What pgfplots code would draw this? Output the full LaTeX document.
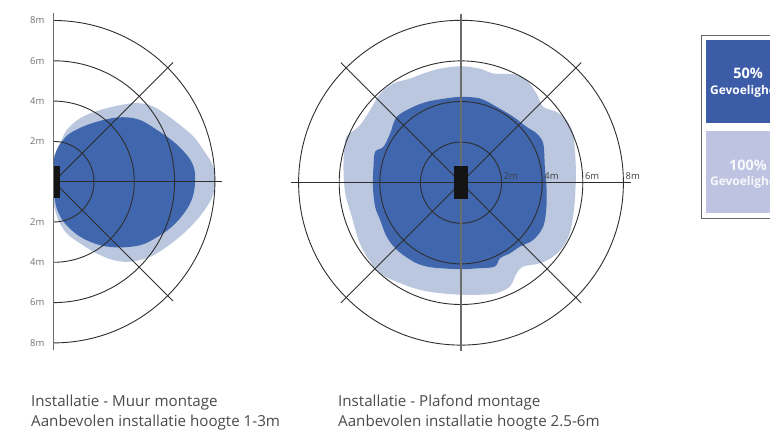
\documentclass[border=0pt]{standalone}
\usepackage{pgfplots}
\pgfplotsset{compat=1.18}
\usepackage{fontspec}
\setmainfont{Open Sans}
\definecolor{darkb}{HTML}{4066AE}
\definecolor{lightb}{HTML}{BAC7DE}
\definecolor{legdark}{HTML}{3D5CA8}
\definecolor{leglight}{HTML}{BDC3E1}
\definecolor{gridc}{HTML}{2E2E2E}
\definecolor{labc}{HTML}{707070}
\definecolor{labr}{HTML}{404040}
\definecolor{capc}{HTML}{4A4A4A}
\begin{document}
\begin{tikzpicture}
\useasboundingbox (0,0) rectangle (770bp,430bp);
\clip (0,0) rectangle (770bp,430bp);
% ---------- left: wall mount ----------
\begin{axis}[at={(53.7bp,248.3bp)}, anchor=origin, x=20.15bp, y=20.15bp,
  xmin=-1, xmax=9, ymin=-9, ymax=9, hide axis, clip=false]
\addplot[fill=lightb, draw=none, smooth, tension=0.6] coordinates {
(0,1.24) (0.15,1.57) (0.40,2.07) (0.65,2.57) (1.31,3.15) (2.30,3.56) (3.63,3.86) (4.29,3.89)
(4.95,3.73) (5.61,3.31) (6.27,2.81) (6.94,2.24) (7.43,1.57) (7.85,0.91) (8.01,0.25) (7.93,-0.58)
(7.60,-1.24) (7.10,-1.90) (6.44,-2.57) (5.61,-3.23) (4.78,-3.73) (3.79,-3.97) (2.96,-3.89)
(2.14,-3.56) (1.31,-3.06) (0.65,-2.57) (0.23,-1.90) (0.03,-1.24) (0,-0.91)};
\addplot[fill=darkb, draw=none, smooth, tension=0.6] coordinates {
(0,1.08) (0.15,1.57) (0.40,1.99) (0.81,2.40) (1.64,2.81) (2.63,3.10) (3.46,3.20) (4.29,3.06)
(5.12,2.57) (5.94,1.99) (6.61,1.32) (6.94,0.75) (7.02,0.08) (6.90,-0.75) (6.52,-1.49)
(5.86,-2.24) (5.03,-2.81) (4.29,-3.15) (3.29,-3.26) (2.30,-3.15) (1.31,-2.73) (0.56,-2.07)
(0.18,-1.41) (0.03,-0.75) (0,-0.5)};
\pgfplotsinvokeforeach{2,4,6,8}{
  \draw[gridc, line width=0.9bp] (axis cs:0,#1) arc[start angle=90, end angle=-90, radius=#1];
  \node[labc, anchor=east, inner sep=0, font=\fontsize{9.5}{10}\selectfont] at (axis cs:-0.45,#1) {#1m};
  \node[labc, anchor=east, inner sep=0, font=\fontsize{9.5}{10}\selectfont] at (axis cs:-0.45,-#1) {#1m};
}
\draw[gridc, line width=0.9bp] (axis cs:0,0) -- (axis cs:8.35,0);
\draw[gridc, line width=0.9bp] (axis cs:0,0) -- (axis cs:5.92,5.92);
\draw[gridc, line width=0.9bp] (axis cs:0,0) -- (axis cs:5.92,-5.92);
\draw[gray!85!black, line width=1.5bp] (axis cs:0,-8.35) -- (axis cs:0,8.35);
\fill[black!92] (axis cs:0,-0.8) rectangle (axis cs:0.33,0.8);
\end{axis}
% ---------- right: ceiling mount ----------
\begin{axis}[at={(461bp,247.3bp)}, anchor=origin, x=20.3bp, y=20.3bp,
  xmin=-9, xmax=9, ymin=-9, ymax=9, hide axis, clip=false]
\addplot[fill=lightb, draw=none, smooth, tension=0.55] coordinates {
(0,5.74) (0.93,5.62) (1.59,5.38) (2.57,5.34) (3.23,5.05) (3.72,4.39) (4.05,3.74) (4.70,3.49)
(5.20,3.08) (5.52,2.43) (5.61,1.61) (5.66,0.46) (5.61,-0.85) (5.52,-1.67) (5.36,-2.49)
(5.03,-3.15) (4.54,-3.64) (3.89,-3.97) (3.07,-4.13) (2.74,-4.46) (2.41,-5.11) (1.75,-5.44)
(0.93,-5.52) (0,-5.52) (-1.03,-5.44) (-2.02,-5.28) (-3.00,-4.95) (-3.98,-4.46) (-4.64,-3.64)
(-5.05,-2.82) (-5.38,-1.67) (-5.70,-0.52) (-5.79,0.79) (-5.70,2.10) (-5.46,2.43) (-4.97,2.84)
(-4.48,3.57) (-3.98,4.39) (-3.33,4.89) (-2.51,5.13) (-1.85,5.38) (-1.03,5.62) (0,5.74) (0.93,5.62)};
\addplot[fill=darkb, draw=none, smooth, tension=0.55] coordinates {
(0,4.23) (0.93,4.15) (1.75,3.74) (2.57,3.25) (3.23,2.75) (3.72,2.43) (4.05,1.93) (4.13,0.79)
(4.21,-0.20) (4.21,-1.18) (4.05,-2.16) (3.56,-2.82) (2.90,-3.15) (2.41,-3.48) (1.92,-3.72)
(1.67,-4.13) (0.93,-4.21) (0,-4.26) (-1.03,-4.21) (-1.69,-4.13) (-2.34,-3.89) (-3.16,-3.31)
(-3.66,-2.66) (-3.98,-1.84) (-4.23,-1.18) (-4.34,-0.20) (-4.31,0.79) (-4.23,1.52) (-3.82,1.77)
(-3.49,2.43) (-3.16,3.25) (-2.34,3.74) (-1.69,3.98) (-1.03,4.11) (0,4.23) (0.93,4.15)};
\pgfplotsinvokeforeach{2,4,6,8}{
  \draw[gridc, line width=0.9bp] (axis cs:0,0) circle[radius=#1];
  \node[labr, anchor=base west, inner sep=0, font=\fontsize{9.5}{10}\selectfont] at (axis cs:#1.1,0.15) {#1m};
}
\draw[gridc, line width=0.9bp] (axis cs:-8.35,0) -- (axis cs:8.35,0);
\draw[gridc, line width=0.9bp] (axis cs:-5.92,5.92) -- (axis cs:5.92,-5.92);
\draw[gridc, line width=0.9bp] (axis cs:-5.92,-5.92) -- (axis cs:5.92,5.92);
\draw[gray!85!black, line width=1.1bp] (axis cs:0,-8.3) -- (axis cs:0,8.3);
\fill[black!92] (axis cs:-0.33,-0.82) rectangle (axis cs:0.33,0.82);
\end{axis}
% ---------- legend ----------
\draw[gray!80!black, line width=0.8bp] (701bp,212bp) rectangle (800bp,395bp);
\fill[legdark] (705.7bp,307.3bp) rectangle (790bp,390bp);
\fill[leglight] (705.7bp,217bp) rectangle (790bp,299bp);
\node[white, font=\bfseries\fontsize{14.5}{15}\selectfont] at (748bp,357bp) {50\%};
\node[white, font=\bfseries\fontsize{12}{13}\selectfont, anchor=west, inner sep=0] at (710bp,338.5bp) {Gevoeligheid};
\node[white!88!leglight, font=\bfseries\fontsize{14.5}{15}\selectfont] at (748bp,265bp) {100\%};
\node[white!88!leglight, font=\bfseries\fontsize{12}{13}\selectfont, anchor=west, inner sep=0] at (710bp,248bp) {Gevoeligheid};
% ---------- captions ----------
\node[capc, anchor=base west, inner sep=0, font=\fontsize{15.2}{16}\selectfont] at (31bp,24bp) {Installatie - Muur montage};
\node[capc, anchor=base west, inner sep=0, font=\fontsize{15.2}{16}\selectfont] at (31bp,3.5bp) {Aanbevolen installatie hoogte 1-3m};
\node[capc, anchor=base west, inner sep=0, font=\fontsize{15.2}{16}\selectfont] at (338bp,24bp) {Installatie - Plafond montage};
\node[capc, anchor=base west, inner sep=0, font=\fontsize{15.2}{16}\selectfont] at (338bp,3.5bp) {Aanbevolen installatie hoogte 2.5-6m};
\end{tikzpicture}
\end{document}
